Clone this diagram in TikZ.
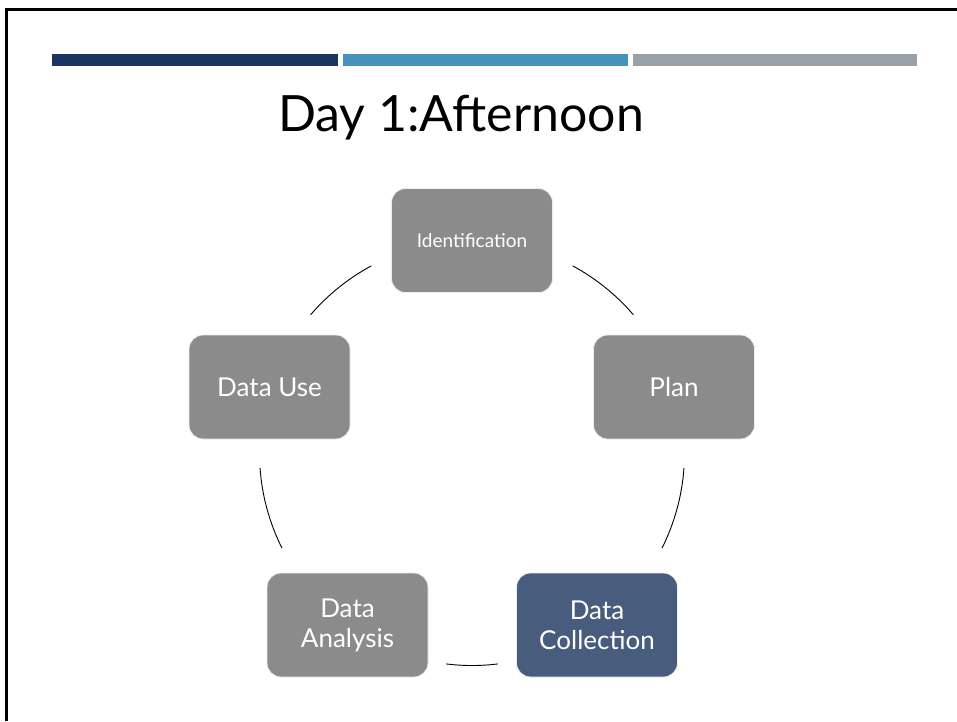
\documentclass[tikz,border=0pt]{standalone}
\usepackage{fontspec}
\setmainfont{Lato}
\definecolor{boxgray}{RGB}{139,139,139}
\definecolor{boxblue}{RGB}{72,92,125}
\definecolor{barnavy}{RGB}{29,52,97}
\definecolor{barblue}{RGB}{70,145,189}
\definecolor{bargray}{RGB}{154,160,168}
\tikzset{
  stage/.style={rounded corners=14pt,fill=boxgray,draw=white!85!boxgray,line width=0.8pt,
    minimum width=161pt,minimum height=104pt,text=white,align=center,
    font=\fontsize{26}{30}\selectfont},
  link/.style={draw=black,line width=0.9pt}
}
\begin{document}
\begin{tikzpicture}[x=1pt,y=1pt]
  \useasboundingbox (0,0) rectangle (957,-721);
  % slide frame and header bars
  \draw[line width=3pt] (957,-9.5) -- (6,-9.5) -- (6,-721);
  \fill[barnavy] (52,-54) rectangle (337.5,-66);
  \fill[barblue] (343,-54) rectangle (628,-66);
  \fill[bargray] (632.5,-54) rectangle (917,-66);

  \node (title) [anchor=base,font=\fontsize{50}{60}\selectfont] at (461,-131) {Day 1:Afternoon};

  \coordinate (hub) at (472,-453);
  \begin{scope}[every node/.style={stage}]
    \node (ident) [font=\fontsize{19}{23}\selectfont] at (472,-240.5) {Identification};
    \node (plan) at (674,-387) {Plan};
    \node (collect) [fill=boxblue] at (597,-625) {Data\\Collection};
    \node (analysis) at (347.5,-625) {Data\\Analysis};
    \node (use) at (269.5,-387) {Data Use};
  \end{scope}

  \begin{scope}[every path/.style={link}]
    \path (hub) ++(61.7:212.5) arc[start angle=61.7,end angle=40.6,radius=212.5];
    \path (hub) ++(-4:212.5) arc[start angle=-4,end angle=-26.6,radius=212.5];
    \path (hub) ++(-83:212.5) arc[start angle=-83,end angle=-97,radius=212.5];
    \path (hub) ++(206.6:212.5) arc[start angle=206.6,end angle=184,radius=212.5];
    \path (hub) ++(139.4:212.5) arc[start angle=139.4,end angle=118.3,radius=212.5];
  \end{scope}
\end{tikzpicture}
\end{document}
